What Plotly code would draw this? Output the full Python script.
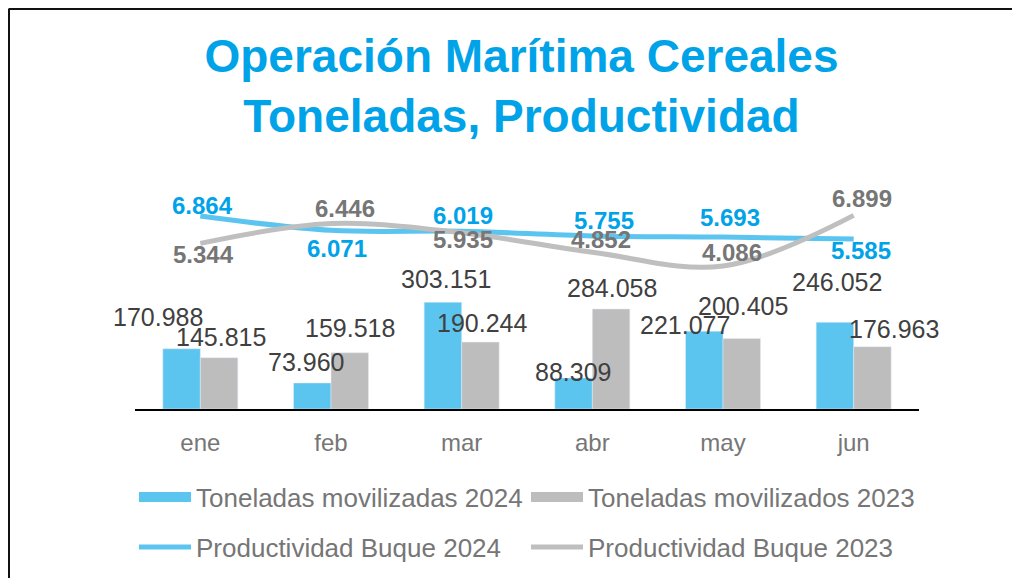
import plotly.graph_objects as go

# ---------------- data ----------------
months = ["ene", "feb", "mar", "abr", "may", "jun"]
ton_2024 = [170988, 73960, 303151, 88309, 221077, 246052]
ton_2023 = [145815, 159518, 190244, 284058, 200405, 176963]
prod_2024 = [6864, 6071, 6019, 5755, 5693, 5585]
prod_2023 = [5344, 6446, 5935, 4852, 4086, 6899]
series_names = ["Toneladas movilizadas 2024", "Toneladas movilizados 2023",
                "Productividad Buque 2024", "Productividad Buque 2023"]
title_text = "Operación Marítima Cereales<br>Toneladas, Productividad"

# ---------------- label offsets (px) ----------------
bar24_dx = [-42, -25, -16, -19, -38, -17]
bar24_dy = [32, 21, 23, 6, 6, 40]
bar23_dx = [21, 19, 20, 20, 20, 40]
bar23_dy = [21, 25, 19, 21, 32, 18]
ln24_dx = [2, 6, 1, 12, 7, 7]
ln24_dy = [11, -18, 16, 15, 20, -11]
ln23_dx = [3, 14, 1, 9, 9, 8]
ln23_dy = [-11, 15, -7, 13, 14, 17]

# ---------------- styles ----------------
BLUE = "#5BC4EF"
GRAY = "#BDBDBD"
BLUE_TXT = "#00A3E8"
GRAY_TXT = "#767676"
DARK_TXT = "#404040"
FONT = "Liberation Sans"

W, H = 1020, 578
OFF = 8  # page body margin compensation

# plot area in page pixels
PL, PR, PT, PB = 135, 919, 190, 409
ML = PL - OFF
MT = PT - OFF
pw, ph = PR - PL, PB - PT
MR = W - ML - pw
MB = H - MT - ph


def fmt(v):
    return f"{v:,}".replace(",", ".")


fig = go.Figure()

fig.add_trace(go.Bar(x=months, y=ton_2024, name=series_names[0], marker_color=BLUE,
                     showlegend=False))
fig.add_trace(go.Bar(x=months, y=ton_2023, name=series_names[1], marker_color=GRAY,
                     showlegend=False))
fig.add_trace(go.Scatter(x=months, y=prod_2024, name=series_names[2], yaxis="y2",
                         mode="lines", line=dict(color=BLUE, width=5, shape="spline", smoothing=1),
                         legend="legend3"))
fig.add_trace(go.Scatter(x=months, y=prod_2023, name=series_names[3], yaxis="y2",
                         mode="lines", line=dict(color="#BFBFBF", width=5, shape="spline", smoothing=1),
                         legend="legend4"))
# legend entries for the bars (thick line symbols)
fig.add_trace(go.Scatter(x=[months[0]], y=[None], name=series_names[0], mode="lines",
                         line=dict(color=BLUE, width=14), legend="legend"))
fig.add_trace(go.Scatter(x=[months[0]], y=[None], name=series_names[1], mode="lines",
                         line=dict(color=GRAY, width=14), legend="legend2"))

ann = []
for i, m in enumerate(months):
    ann.append(dict(x=m, y=ton_2024[i], xref="x", yref="y", text=fmt(ton_2024[i]),
                    showarrow=False, xshift=bar24_dx[i], yshift=bar24_dy[i],
                    font=dict(family=FONT, size=25, color=DARK_TXT)))
    ann.append(dict(x=m, y=ton_2023[i], xref="x", yref="y", text=fmt(ton_2023[i]),
                    showarrow=False, xshift=bar23_dx[i], yshift=bar23_dy[i],
                    font=dict(family=FONT, size=25, color=DARK_TXT)))
    ann.append(dict(x=m, y=prod_2023[i], xref="x", yref="y2", text=fmt(prod_2023[i]),
                    showarrow=False, xshift=ln23_dx[i], yshift=ln23_dy[i],
                    font=dict(family=FONT, size=24, color=GRAY_TXT, weight="bold")))
    ann.append(dict(x=m, y=prod_2024[i], xref="x", yref="y2", text=fmt(prod_2024[i]),
                    showarrow=False, xshift=ln24_dx[i], yshift=ln24_dy[i],
                    font=dict(family=FONT, size=24, color=BLUE_TXT, weight="bold")))


def px_x(px):  # page px -> paper x
    return (px - PL) / pw


def px_y(py):  # page px -> paper y
    return (PB - py) / ph


shapes = [
    dict(type="line", xref="paper", yref="paper", x0=px_x(8.5), x1=px_x(1040),
         y0=px_y(9), y1=px_y(9), line=dict(color="#111111", width=2)),
    dict(type="line", xref="paper", yref="paper", x0=px_x(9), x1=px_x(9),
         y0=px_y(9), y1=px_y(600), line=dict(color="#111111", width=2)),
]

leg_font = dict(family=FONT, size=26, color=GRAY_TXT)


def leg(xpx, ypx):  # page coordinates
    return dict(orientation="h", xref="container", yref="container",
                x=(xpx - OFF) / W, y=1 - (ypx - OFF) / H, xanchor="left", yanchor="middle",
                font=leg_font, itemwidth=52, bgcolor="rgba(0,0,0,0)", borderwidth=0)


fig.update_layout(
    width=W, height=H,
    margin=dict(l=ML, r=MR, t=MT, b=MB),
    paper_bgcolor="white", plot_bgcolor="white",
    barmode="group", bargap=0.426, bargroupgap=0,
    title=dict(text=title_text, x=(521.5 - OFF) / W, xanchor="center", xref="container",
               y=1 - (72 - OFF) / H, yanchor="top", yref="container",
               font=dict(family=FONT, size=46, color=BLUE_TXT, weight="bold")),
    xaxis=dict(type="category", categoryorder="array", categoryarray=months,
               range=[-0.5, len(months) - 0.5], autorange=False,
               showline=True, linecolor="#000000", linewidth=2, ticks="",
               showgrid=False, tickfont=dict(family=FONT, size=24, color=GRAY_TXT),
               ticklabelstandoff=11),
    yaxis=dict(range=[0, 622000], visible=False, showgrid=False),
    yaxis2=dict(range=[-3860, 8310], overlaying="y", side="right", visible=False,
                showgrid=False),
    legend=leg(134, 497),
    legend2=leg(526, 497),
    legend3=leg(134, 547),
    legend4=leg(526, 547),
    annotations=ann,
    shapes=shapes,
)

fig.write_html("out.html")
